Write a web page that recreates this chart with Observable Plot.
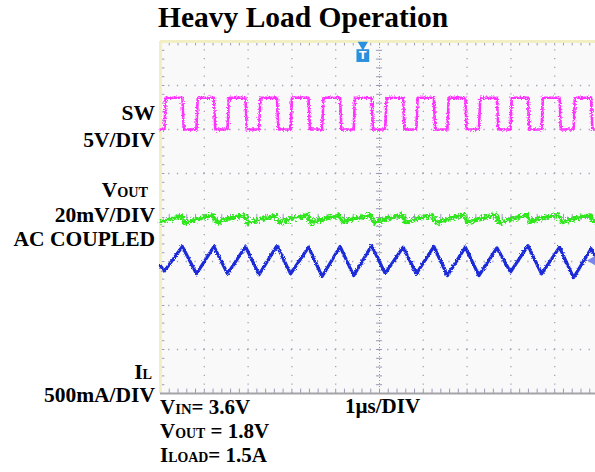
<!DOCTYPE html>
<html><head><meta charset="utf-8">
<script src="https://cdn.jsdelivr.net/npm/d3@7"></script>
<script src="https://cdn.jsdelivr.net/npm/@observablehq/plot@0.6"></script>
<style>html,body{margin:0;padding:0;background:#fff;overflow:hidden}</style>
</head><body><div id="chart"></div>
<script>
// ---- data (time in µs, amplitude in screen divisions from centre) ----
const swRise = [0.09, 0.82, 1.53, 2.25, 2.97, 3.69, 4.41, 5.13, 5.84, 6.55, 7.27, 7.99, 8.70, 9.43];
const swFall = [0.50, 1.22, 1.94, 2.66, 3.38, 4.10, 4.82, 5.54, 6.24, 6.96, 7.68, 8.39, 9.11, 9.83];
const swLow = 2.0, swHigh = 2.72, swEdge = 0.03;

const ilValleys = [-1.22, -1.28, -1.28, -1.30, -1.28, -1.34, -1.32, -1.27, -1.28, -1.32, -1.32, -1.24, -1.28, -1.37];
const ilPeaks   = [-0.66, -0.66, -0.66, -0.64, -0.675, -0.66, -0.64, -0.675, -0.66, -0.675, -0.69, -0.64, -0.675, -0.71];
const ilStart = -1.10, ilEnd = -0.98;

const voutT = [0, 0.25, 0.47, 0.56, 0.82, 1.19, 1.28, 1.53, 1.91, 2.00, 2.25, 2.63, 2.72, 2.97, 3.35, 3.44, 3.69, 4.07, 4.16, 4.41, 4.79, 4.88, 5.13, 5.51, 5.60, 5.84, 6.21, 6.30, 6.55, 6.93, 7.02, 7.27, 7.65, 7.74, 7.99, 8.36, 8.45, 8.70, 9.08, 9.17, 9.43, 9.80, 9.89, 10];
const voutV = [-0.10, -0.03, 0.04, -0.13, -0.04, 0.05, -0.12, -0.03, 0.06, -0.13, -0.05, 0.04, -0.12, -0.03, 0.06, -0.13, -0.04, 0.05, -0.10, -0.03, 0.06, -0.12, -0.04, 0.05, -0.11, -0.03, 0.05, -0.13, -0.04, 0.06, -0.12, -0.03, 0.05, -0.12, -0.04, 0.06, -0.10, -0.02, 0.06, -0.11, -0.03, 0.05, -0.10, -0.04];

const majorX = [1, 2, 3, 4, 6, 7, 8, 9];
const majorY = [-3, -2, -1, 1, 2, 3];
const triggerT = [4.62];
const chanMarkY = [-0.98];

const titleText = "Heavy Load Operation";
const leftLabels = [
  [["SW", 1]], [["5V/DIV", 1]],
  [["V", 1], ["OUT", 0.66]], [["20mV/DIV", 1]], [["AC COUPLED", 1]],
  [["I", 1], ["L", 0.66]], [["500mA/DIV", 1]]
];
const bottomLabels = [
  [["V", 1], ["IN", 0.7], ["= 3.6V", 1]],
  [["V", 1], ["OUT", 0.66], [" = 1.8V", 1]],
  [["I", 1], ["LOAD", 0.66], ["= 1.5A", 1]]
];
const timebaseLabel = "1µs/DIV";

// ---- tables ----
const sw = [{t: 0, v: swLow}];
swRise.forEach((r, i) => {
  sw.push({t: r, v: swLow}, {t: r + swEdge, v: swHigh}, {t: swFall[i], v: swHigh}, {t: swFall[i] + swEdge, v: swLow});
});
sw.push({t: 10, v: swLow});

const il = [{t: 0, v: ilStart}];
swRise.forEach((r, i) => { il.push({t: r, v: ilValleys[i]}, {t: swFall[i], v: ilPeaks[i]}); });
il.push({t: 10, v: ilEnd});

const vout = voutT.map((t, i) => ({t, v: voutV[i]}));

const minorX = d3.range(0, 10.001, 0.2);
const minorY = d3.range(-4, 4.001, 0.2);

const chart = Plot.plot({
  width: 595, height: 472,
  marginLeft: 160, marginRight: -3, marginTop: 41, marginBottom: 79,
  x: {domain: [0, 10], axis: null},
  y: {domain: [-4, 4], axis: null},
  style: {background: "#fff", overflow: "hidden"},
  marks: [
    Plot.frame({fill: "#f9f9f9", stroke: null}),
    Plot.ruleX(majorX, {stroke: "#a4a4b8", strokeWidth: 1.3, strokeDasharray: "1.3 7.5", strokeDashoffset: 0.65}),
    Plot.ruleY(majorY, {stroke: "#a4a4b8", strokeWidth: 1.3, strokeDasharray: "1.3 7.46", strokeDashoffset: 0.65}),
    Plot.ruleX([5], {stroke: "#9a9ab8", strokeWidth: 1, strokeDasharray: "1 2"}),
    Plot.ruleY([0], {stroke: "#9a9ab8", strokeWidth: 1, strokeDasharray: "1 2"}),
    Plot.ruleX(minorX, {y1: -0.07, y2: 0.07, stroke: "#9a9ab8", strokeWidth: 1}),
    Plot.ruleY(minorY, {x1: 4.93, x2: 5.07, stroke: "#9a9ab8", strokeWidth: 1}),
    Plot.ruleX(minorX, {y1: 4, y2: 3.9, stroke: "#9a9ab8", strokeWidth: 1}),
    Plot.ruleX(minorX, {y1: -4, y2: -3.9, stroke: "#9a9ab8", strokeWidth: 1}),
    Plot.ruleY(minorY, {x1: 0, x2: 0.1, stroke: "#9a9ab8", strokeWidth: 1}),
    Plot.ruleY([4], {stroke: "#f3efc4", strokeWidth: 3}),
    Plot.ruleX([0], {stroke: "#f3efc4", strokeWidth: 3}),
    Plot.ruleY([-4], {stroke: "#a4a4a8", strokeWidth: 2}),
    Plot.line(sw, {x: "t", y: "v", stroke: "#ff33ff", strokeWidth: 2.6}),
    Plot.line(vout, {x: "t", y: "v", stroke: "#2ee81e", strokeWidth: 4}),
    Plot.line(il, {x: "t", y: "v", stroke: "#1a2ad8", strokeWidth: 3.2}),
    Plot.dot(triggerT, {x: d => d, y: 3.93, symbol: "triangle", rotate: 180, r: 3.8, fill: "#2a8fdc"}),
    Plot.dot(triggerT, {x: d => d, y: 3.68, symbol: "square", r: 7.2, fill: "#2a8fdc"}),
    Plot.text(triggerT, {x: d => d, y: 3.68, text: () => "T", fill: "#fff", fontSize: 11, fontWeight: "bold", fontFamily: "DejaVu Sans"}),
    Plot.dot(chanMarkY, {x: 9.88, y: d => d, symbol: "triangle", rotate: -90, r: 4, fill: "#7a86ea"})
  ]
});
document.getElementById("chart").appendChild(chart);

// ---- noise filters (styling only) ----
const svg = d3.select(chart);
const defs = svg.insert("defs", ":first-child");
function noise(id, freq, scale, seed) {
  const f = defs.append("filter").attr("id", id).attr("filterUnits", "userSpaceOnUse")
    .attr("x", 0).attr("y", 0).attr("width", 600).attr("height", 472);
  f.append("feTurbulence").attr("type", "fractalNoise").attr("baseFrequency", freq).attr("numOctaves", 2).attr("seed", seed).attr("result", "n");
  f.append("feDisplacementMap").attr("in", "SourceGraphic").attr("in2", "n").attr("scale", scale)
    .attr("xChannelSelector", "R").attr("yChannelSelector", "G");
}
noise("nSW", "0.7", 4.5, 2);
noise("nVO", "0.45", 8, 5);
noise("nIL", "0.8", 3, 9);
const lines = svg.selectAll('g[aria-label="line"]').nodes();
["nSW", "nVO", "nIL"].forEach((id, i) => { if (lines[i]) lines[i].setAttribute("filter", `url(#${id})`); });

// ---- text ----
const font = "'Liberation Serif', 'Times New Roman', serif";
function label(x, y, anchor, parts, size) {
  const t = svg.append("text").attr("x", x).attr("y", y).attr("text-anchor", anchor)
    .attr("font-family", font).attr("font-weight", "bold").attr("font-size", size).attr("fill", "#000");
  parts.forEach(([s, k]) => t.append("tspan").attr("font-size", size * k).text(s));
}
label(158, 27, "start", [[titleText, 1]], 29.5);
const leftPos = [[155, 120], [155, 147], [148, 197], [155, 222], [155, 246], [152, 379], [155, 402]];
leftLabels.forEach((p, i) => label(leftPos[i][0], leftPos[i][1], "end", p, 21.5));
const botPos = [[160, 414], [160, 438], [160, 462]];
bottomLabels.forEach((p, i) => label(botPos[i][0], botPos[i][1], "start", p, 21));
label(345, 413, "start", [[timebaseLabel, 1]], 21);
</script>
</body></html>
